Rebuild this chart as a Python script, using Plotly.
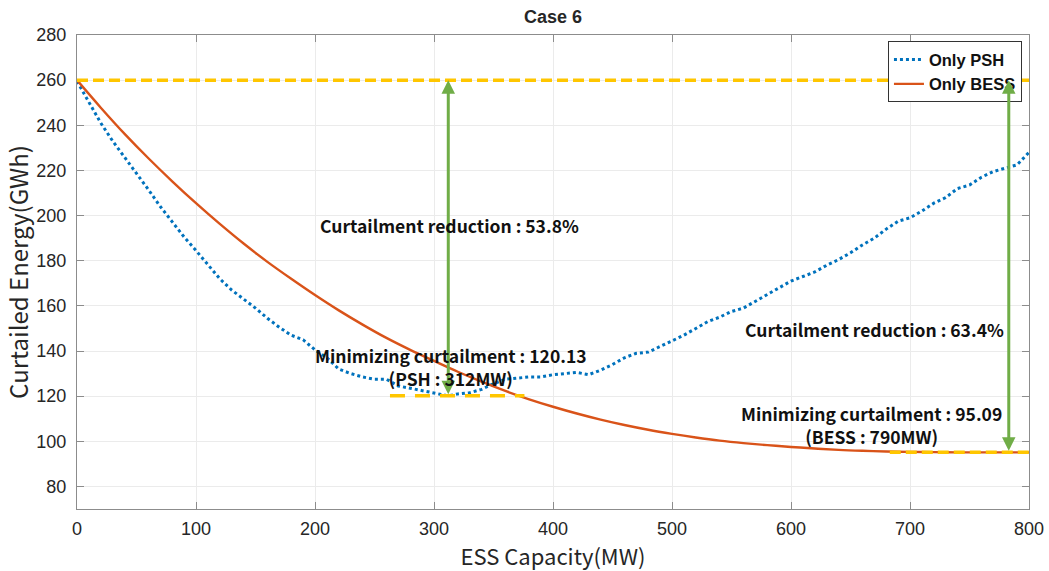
import plotly.graph_objects as go

# ---------------- data ----------------
psh_mw = [0, 10, 20, 30, 40, 50, 60, 70, 80, 90, 100, 110, 120, 130, 140, 150, 160, 170, 180, 190,
          200, 210, 220, 230, 240, 250, 260, 270, 280, 290, 300, 312, 320, 330, 340, 350, 360, 370, 380, 390,
          400, 410, 420, 430, 440, 450, 460, 470, 480, 490, 500, 510, 520, 530, 540, 550, 560, 570, 580, 590,
          600, 610, 620, 630, 640, 650, 660, 670, 680, 690, 700, 710, 720, 730, 740, 750, 760, 770, 780, 790, 800]
psh_gwh = [259.5, 250.0, 241.0, 233.0, 226.0, 219.0, 211.5, 204.0, 197.0, 190.5, 184.5, 178.0, 172.0, 167.0, 163.0, 159.0, 154.5, 150.5, 147.0, 145.0,
           140.5, 137.0, 132.0, 130.0, 128.5, 127.5, 127.5, 124.5, 123.5, 122.5, 121.5, 120.13, 121.0, 121.5, 123.0, 125.5, 127.5, 128.0, 128.5, 128.5,
           129.5, 130.0, 130.5, 129.5, 131.5, 134.0, 137.0, 139.0, 139.5, 142.0, 144.5, 147.0, 150.0, 153.0, 155.0, 157.5, 159.0, 162.0, 165.0, 168.0,
           171.0, 173.0, 175.0, 178.0, 180.5, 183.5, 187.0, 190.0, 194.0, 197.5, 199.0, 202.0, 205.5, 208.0, 212.0, 213.5, 217.0, 219.5, 221.0, 222.5, 228.0]

bess_mw = [0, 20, 40, 60, 80, 100, 120, 140, 160, 180, 200, 220, 240, 260, 280, 300, 320, 340, 360, 380,
           400, 420, 440, 460, 480, 500, 520, 540, 560, 580, 600, 620, 640, 660, 680, 700, 720, 740, 760, 780, 790, 800]
bess_gwh = [260.0, 247.8, 236.2, 225.4, 215.2, 205.5, 196.3, 187.6, 179.5, 172.0, 164.8, 158.0, 151.7, 145.8, 140.5, 135.6, 130.8, 126.4, 122.3, 118.6,
            115.3, 112.3, 109.6, 107.2, 105.1, 103.3, 101.7, 100.3, 99.2, 98.3, 97.5, 96.8, 96.2, 95.8, 95.5, 95.3, 95.2, 95.1, 95.1, 95.09, 95.09, 95.1]

baseline_gwh = 260.0
psh_min_gwh = 120.13
psh_opt_mw = 312
bess_min_gwh = 95.09
bess_arrow_mw = 783
psh_min_span = [263, 376]
bess_min_span = [683, 800]

x_ticks = [0, 100, 200, 300, 400, 500, 600, 700, 800]
y_ticks = [80, 100, 120, 140, 160, 180, 200, 220, 240, 260, 280]

# ---------------- styles ----------------
BLUE = "#0072BD"
ORANGE = "#D95319"
YELLOW = "#FFC600"
GREEN = "#70AD47"
TXT = "#262626"
AXC = "#8c8c8c"
KR = "Noto Sans CJK KR"
LAT = "Liberation Sans"

fig = go.Figure()
fig.add_trace(go.Scatter(x=psh_mw, y=psh_gwh, mode="lines", name="Only PSH",
                         line=dict(color=BLUE, width=3, dash="3px,3px")))
fig.add_trace(go.Scatter(x=bess_mw, y=bess_gwh, mode="lines", name="Only BESS",
                         line=dict(color=ORANGE, width=2.4, shape="spline")))

# yellow dashed reference lines
fig.add_shape(type="line", x0=0, x1=800, y0=baseline_gwh, y1=baseline_gwh, xref="x", yref="y",
              line=dict(color=YELLOW, width=3.5, dash="11px,5px"))
fig.add_shape(type="line", x0=psh_min_span[0], x1=psh_min_span[1], y0=psh_min_gwh, y1=psh_min_gwh,
              xref="x", yref="y", line=dict(color=YELLOW, width=3.5, dash="15px,10px"))
fig.add_shape(type="line", x0=bess_min_span[0], x1=bess_min_span[1], y0=bess_min_gwh, y1=bess_min_gwh,
              xref="x", yref="y", line=dict(color=YELLOW, width=3.5, dash="11px,5px"))

# green double-headed arrows
for xm, ylow in [(psh_opt_mw, psh_min_gwh), (bess_arrow_mw, bess_min_gwh)]:
    fig.add_annotation(x=xm, y=baseline_gwh, ax=xm, ay=ylow, xref="x", yref="y", axref="x", ayref="y",
                       text="", showarrow=True, arrowside="end+start", arrowhead=2, startarrowhead=2,
                       arrowsize=0.9, startarrowsize=0.9, arrowwidth=3, arrowcolor=GREEN)

afont = dict(family=KR, size=17.5, color="#111111", weight="bold")
fig.add_annotation(x=313, y=195.5, xref="x", yref="y", text="Curtailment reduction : 53.8%",
                   showarrow=False, font=afont)
fig.add_annotation(x=314, y=133, xref="x", yref="y",
                   text="Minimizing curtailment : 120.13<br>(PSH : 312MW)",
                   showarrow=False, font=afont, align="center")
fig.add_annotation(x=670, y=149.5, xref="x", yref="y", text="Curtailment reduction : 63.4%",
                   showarrow=False, font=afont)
fig.add_annotation(x=668, y=107.2, xref="x", yref="y",
                   text="Minimizing curtailment : 95.09<br>(BESS : 790MW)",
                   showarrow=False, font=afont, align="center")

axis_common = dict(showline=True, linecolor=AXC, linewidth=1, mirror="ticks",
                   ticks="inside", ticklen=7, tickcolor=AXC, tickwidth=1,
                   showgrid=True, gridcolor="#ebebeb", gridwidth=1, zeroline=False,
                   automargin=False,
                   tickfont=dict(family=LAT, size=18, color=TXT))

fig.update_xaxes(range=[0, 800], tickvals=x_ticks, ticktext=[str(v) for v in x_ticks],
                 title=dict(text="ESS Capacity(MW)", font=dict(family=KR, size=22, color=TXT), standoff=5),
                 ticklabelstandoff=3, **axis_common)
fig.update_yaxes(range=[70, 280], tickvals=y_ticks, ticktext=[str(v) for v in y_ticks],
                 title=dict(text="Curtailed Energy(GWh)", font=dict(family=KR, size=24, color=TXT), standoff=4),
                 ticklabelstandoff=6, **axis_common)

fig.update_layout(
    width=1049, height=571,
    margin=dict(l=77, r=20, t=35, b=62, autoexpand=False),
    paper_bgcolor="white", plot_bgcolor="white",
    title=dict(text="Case 6", x=(77 + 1029) / 2 / 1049, xanchor="center", y=1 - 17 / 571, yanchor="middle",
               font=dict(family=LAT, size=18, color=TXT, weight="bold")),
    legend=dict(x=0.9926, y=0.987, xanchor="right", yanchor="top", bgcolor="white",
                bordercolor="#333333", borderwidth=1,
                font=dict(family=LAT, size=16.5, color="#111111", weight="bold"),
                tracegroupgap=0),
    showlegend=True,
)

fig.write_html("out.html")
